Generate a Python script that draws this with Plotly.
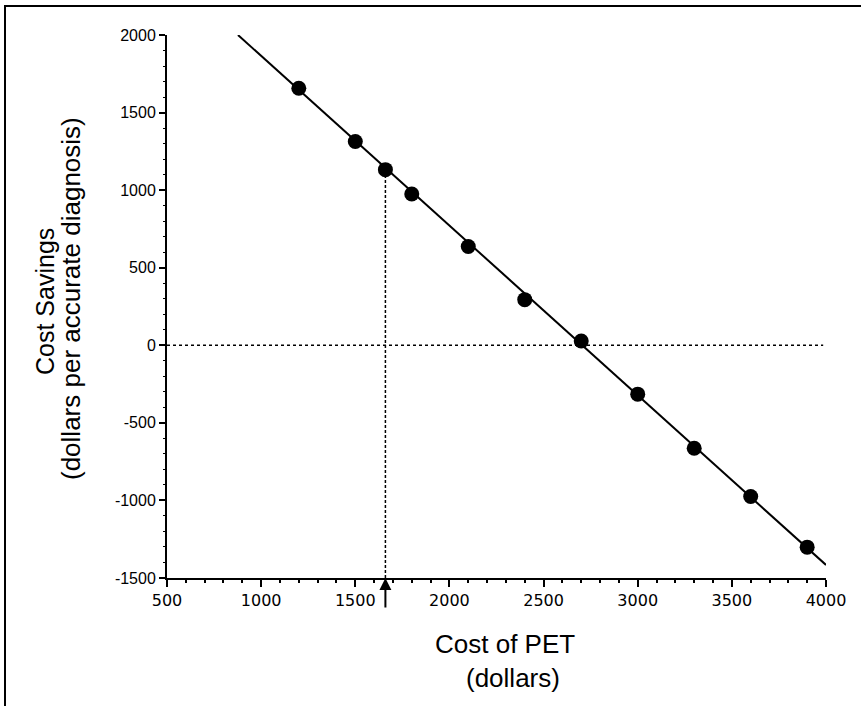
import plotly.graph_objects as go

# Data
pet_cost = [1200, 1500, 1660, 1800, 2100, 2400, 2700, 3000, 3300, 3600, 3900]
savings = [1657, 1314, 1132, 975, 637, 294, 28, -315, -664, -975, -1301]
fit_x = [877, 4000]
fit_y = [2000, -1416]
breakeven_x = 1660
breakeven_y = 1132
zero_line_x = [500, 3985]
zero_line_y = [0, 0]

x_ticks = [500, 1000, 1500, 2000, 2500, 3000, 3500, 4000]
x_tick_labels = ["500", "1000", "1500", "2000", "2500", "3000", "3500", "4000"]
y_ticks = [-1500, -1000, -500, 0, 500, 1000, 1500, 2000]
y_tick_labels = ["-1500", "-1000", "-500", "0", "500", "1000", "1500", "2000"]

x_title = ["Cost of PET", "(dollars)"]
y_title = ["Cost Savings", "(dollars per accurate diagnosis)"]

FONT = "Liberation Sans, Arial"

fig = go.Figure()
fig.add_trace(go.Scatter(x=zero_line_x, y=zero_line_y, mode="lines",
                         line=dict(color="black", width=1.5, dash="dot"),
                         showlegend=False, hoverinfo="skip"))
fig.add_trace(go.Scatter(x=[breakeven_x, breakeven_x], y=[-1500, breakeven_y], mode="lines",
                         line=dict(color="black", width=1.5, dash="3px,2px"),
                         showlegend=False, hoverinfo="skip"))
fig.add_trace(go.Scatter(x=fit_x, y=fit_y, mode="lines",
                         line=dict(color="black", width=2),
                         showlegend=False))
fig.add_trace(go.Scatter(x=pet_cost, y=savings, mode="markers",
                         marker=dict(color="black", size=15),
                         showlegend=False))

fig.add_annotation(x=breakeven_x, y=-1500, xref="x", yref="y", text="",
                   showarrow=True, ax=0, ay=31, arrowhead=2, arrowsize=1.2,
                   arrowwidth=2, arrowcolor="black")

# x-axis title (two lines, offset as in the reference)
fig.add_annotation(x=(505 - 167) / 659, y=0, xref="paper", yref="paper", yshift=-66,
                   xanchor="center", yanchor="middle",
                   text=x_title[0], showarrow=False,
                   font=dict(family=FONT, size=26, color="black"))
fig.add_annotation(x=(513 - 167) / 659, y=0, xref="paper", yref="paper", yshift=-100,
                   xanchor="center", yanchor="middle",
                   text=x_title[1], showarrow=False,
                   font=dict(family=FONT, size=26, color="black"))
# y-axis title (two rotated lines)
fig.add_annotation(x=(45 - 167) / 659, y=(578 - 302) / 543, xref="paper", yref="paper",
                   xanchor="center", yanchor="middle",
                   text=y_title[0], showarrow=False, textangle=-90,
                   font=dict(family=FONT, size=25, color="black"))
fig.add_annotation(x=(71 - 167) / 659, y=(578 - 299) / 543, xref="paper", yref="paper",
                   xanchor="center", yanchor="middle",
                   text=y_title[1], showarrow=False, textangle=-90,
                   font=dict(family=FONT, size=26, color="black"))

# frame around the figure
fig.add_shape(type="rect", xref="paper", yref="paper",
              x0=(5 - 167) / 659, x1=2, y0=-1, y1=(578 - 6) / 543,
              line=dict(color="black", width=2), layer="above")

fig.update_xaxes(range=[500, 4000], tickvals=x_ticks, ticktext=x_tick_labels,
                 ticks="outside", ticklen=7,
                 tickwidth=1.5, tickcolor="black", showline=True, linecolor="black",
                 linewidth=2, showgrid=False, zeroline=False,
                 tickfont=dict(family="DejaVu Sans", size=16, color="black"),
                 minor=dict(dtick=100, ticks="outside", ticklen=3, tickcolor="black", tickwidth=1.5))
fig.update_yaxes(range=[-1500, 2000], tickvals=y_ticks, ticktext=y_tick_labels,
                 ticks="outside", ticklen=6,
                 tickwidth=1.5, tickcolor="black", showline=True, linecolor="black",
                 linewidth=2, showgrid=False, zeroline=False,
                 tickfont=dict(family=FONT, size=16, color="black"),
                 minor=dict(dtick=100, ticks="outside", ticklen=2, tickcolor="black", tickwidth=1))

fig.update_layout(width=861, height=706, plot_bgcolor="white", paper_bgcolor="white",
                  margin=dict(l=167, r=35, t=35, b=128), showlegend=False)

fig.write_html("out.html", config={"displayModeBar": False},
               post_script="document.body.style.margin='0';")
